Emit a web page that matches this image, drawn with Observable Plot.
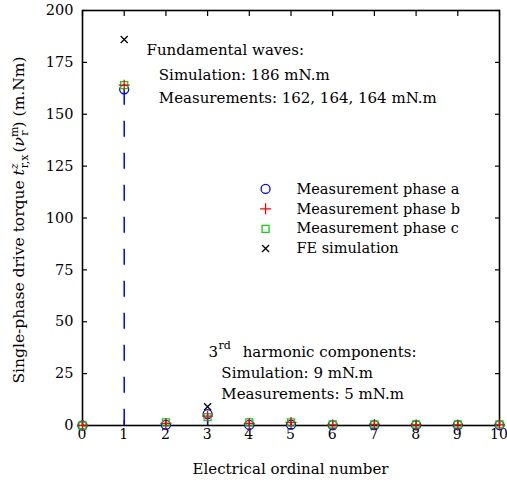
<!DOCTYPE html>
<html>
<head>
<meta charset="utf-8">
<script src="https://cdn.jsdelivr.net/npm/d3@7"></script>
<script src="https://cdn.jsdelivr.net/npm/@observablehq/plot@0.6"></script>
<style>
  html, body { margin: 0; padding: 0; background: #fff; }
  #chart { width: 507px; height: 484px; }
  #chart svg, #chart svg text { font-family: "DejaVu Serif", serif !important; }
</style>
</head>
<body>
<div id="chart"></div>
<script>
// Electrical ordinal numbers on the horizontal axis
const ordinals = [0, 1, 2, 3, 4, 5, 6, 7, 8, 9, 10];

// Single-phase drive torque amplitudes (mN.m) per ordinal
const phaseA = [0, 162, 0.3, 5.5, 0.3, 0.4, 0.2, 0.2, 0.2, 0.2, 0.2];
const phaseB = [0, 164, 1.0, 4.5, 1.0, 1.5, 0.3, 0.5, 0.3, 0.3, 0.3];
const phaseC = [0, 164, 1.5, 4.0, 1.5, 1.5, 0.5, 0.5, 0.5, 0.5, 0.5];
const feSim  = [null, 186, null, 9, null, null, null, null, null, null, null];

// Axis ticks
const xTicks = [0, 1, 2, 3, 4, 5, 6, 7, 8, 9, 10];
const yTicks = [0, 25, 50, 75, 100, 125, 150, 175, 200];

// Legend entries
const legendLabels = ["Measurement phase a", "Measurement phase b", "Measurement phase c", "FE simulation"];

// Annotation lines
const fundamentalLines = ["Fundamental waves:", "Simulation: 186 mN.m", "Measurements: 162, 164, 164 mN.m"];
const harmonicLines = ["harmonic components:", "Simulation: 9 mN.m", "Measurements: 5 mN.m"];

const rows = (vals) => ordinals.map((x, i) => ({x, y: vals[i]})).filter(d => d.y != null);
const dataA = rows(phaseA), dataB = rows(phaseB), dataC = rows(phaseC), dataFE = rows(feSim);

// Open-stroke marker shapes in the style of classic plotting tools
const rad = (size) => Math.sqrt(size / Math.PI);
const symCircle = {draw(ctx, size) { const r = rad(size); ctx.moveTo(r, 0); ctx.arc(0, 0, r, 0, 2 * Math.PI); }};
const symPlus = {draw(ctx, size) { const r = rad(size); ctx.moveTo(-r, 0); ctx.lineTo(r, 0); ctx.moveTo(0, -r); ctx.lineTo(0, r); }};
const symSquare = {draw(ctx, size) { const r = rad(size); ctx.moveTo(-r, -r); ctx.lineTo(r, -r); ctx.lineTo(r, r); ctx.lineTo(-r, r); ctx.closePath(); }};
const symTimes = {draw(ctx, size) { const r = rad(size); ctx.moveTo(-r, -r); ctx.lineTo(r, r); ctx.moveTo(-r, r); ctx.lineTo(r, -r); }};

const styles = [
  {symbol: symCircle, stroke: "#0000ff", r: 4.5},
  {symbol: symPlus, stroke: "#ff0000", r: 5.5},
  {symbol: symSquare, stroke: "#00dd00", r: 3.5},
  {symbol: symTimes, stroke: "#000000", r: 3.5}
];

const legendData = legendLabels.map((label, i) => ({label, i}));
const legendY = [114, 104.4, 94.8, 85.3];

const markerOpts = (s) => ({symbol: s.symbol, stroke: s.stroke, r: s.r, fill: "none", strokeWidth: 1.3});

const plot = Plot.plot({
  width: 507,
  height: 484,
  marginLeft: 82,
  marginRight: 8,
  marginTop: 10,
  marginBottom: 59,
  style: {fontFamily: "DejaVu Serif, serif", fontSize: "14.5px", color: "black", background: "white"},
  x: {domain: [0, 10], label: null},
  y: {domain: [0, 200], label: null},
  marks: [
    // tick labels
    Plot.axisX({ticks: xTicks, tickSize: 0, tickPadding: 4, label: null, fontSize: 14, dx: -0.5}),
    Plot.axisY({ticks: yTicks, tickSize: 0, tickPadding: 9, label: null}),
    // inward tick marks on all four sides
    Plot.axisX({ticks: xTicks, anchor: "bottom", tickSize: 5, dy: -5, fill: "none", label: null, strokeWidth: 1.2}),
    Plot.axisX({ticks: xTicks, anchor: "top", tickSize: 5, dy: 5, fill: "none", label: null, strokeWidth: 1.2}),
    Plot.axisY({ticks: yTicks, anchor: "left", tickSize: 5, dx: 5, fill: "none", label: null, strokeWidth: 1.2}),
    Plot.axisY({ticks: yTicks, anchor: "right", tickSize: 5, dx: -5, fill: "none", label: null, strokeWidth: 1.2}),
    Plot.frame({stroke: "black", strokeWidth: 1.6}),
    // dashed stems for phase a
    Plot.ruleX(dataA, {x: "x", y1: "y", y2: 0, stroke: "#0000ff", strokeWidth: 1.5, strokeDasharray: "16,16"}),
    // measured and simulated amplitudes
    Plot.dot(dataA, {x: "x", y: "y", ...markerOpts(styles[0])}),
    Plot.dot(dataC, {x: "x", y: "y", ...markerOpts(styles[2])}),
    Plot.dot(dataB, {x: "x", y: "y", ...markerOpts(styles[1])}),
    Plot.dot(dataFE, {x: "x", y: "y", ...markerOpts(styles[3])}),
    // legend
    ...styles.map((s, i) => Plot.dot([legendData[i]], {x: () => 4.39, y: () => legendY[i], ...markerOpts(s)})),
    Plot.text(legendData, {x: () => 5.13, y: (d) => legendY[d.i], text: "label", textAnchor: "start", fontSize: 14.5}),
    // fundamental annotation
    Plot.text([fundamentalLines[0]], {x: () => 1.535, y: () => 180.7, text: (d) => d, textAnchor: "start", fontSize: 15}),
    Plot.text(fundamentalLines.slice(1), {x: () => 1.83, y: (d, i) => [168.7, 157.8][i], text: (d) => d, textAnchor: "start", fontSize: 15}),
    // third-harmonic annotation
    Plot.text(["3"], {x: () => 3.02, y: () => 35.5, text: (d) => d, textAnchor: "start", fontSize: 15}),
    Plot.text(["rd"], {x: () => 3.26, y: () => 35.5, dy: -6, text: (d) => d, textAnchor: "start", fontSize: 11}),
    Plot.text([harmonicLines[0]], {x: () => 3.84, y: () => 35.5, text: (d) => d, textAnchor: "start", fontSize: 15}),
    Plot.text(harmonicLines.slice(1), {x: () => 3.33, y: (d, i) => [25.1, 14.9][i], text: (d) => d, textAnchor: "start", fontSize: 15})
  ]
});

document.getElementById("chart").appendChild(plot);

// Axis titles (the y title carries sub/superscripts)
const svg = d3.select(plot);
svg.append("text")
  .attr("x", 290.5).attr("y", 474)
  .attr("text-anchor", "middle")
  .attr("font-size", 15)
  .text("Electrical ordinal number");

const yl = svg.append("text")
  .attr("transform", "translate(24,220) rotate(-90)")
  .attr("text-anchor", "middle")
  .attr("font-size", 15.5);
yl.append("tspan").text("Single-phase drive torque ");
yl.append("tspan").attr("font-style", "italic").text("t");
yl.append("tspan").attr("font-style", "italic").attr("font-size", 11).attr("dy", -6).text("z");
yl.append("tspan").attr("font-size", 11).attr("dx", -5).attr("dy", 10).text("r,x");
yl.append("tspan").attr("dy", -4).attr("dx", 2).text("(");
yl.append("tspan").attr("font-style", "italic").text("ν");
yl.append("tspan").attr("font-size", 11).attr("dy", -6).text("m");
yl.append("tspan").attr("font-size", 11).attr("dx", -9).attr("dy", 10).text("r");
yl.append("tspan").attr("dy", -4).attr("dx", 3).text(")");
yl.append("tspan").text(" (m.Nm)");
</script>
</body>
</html>
